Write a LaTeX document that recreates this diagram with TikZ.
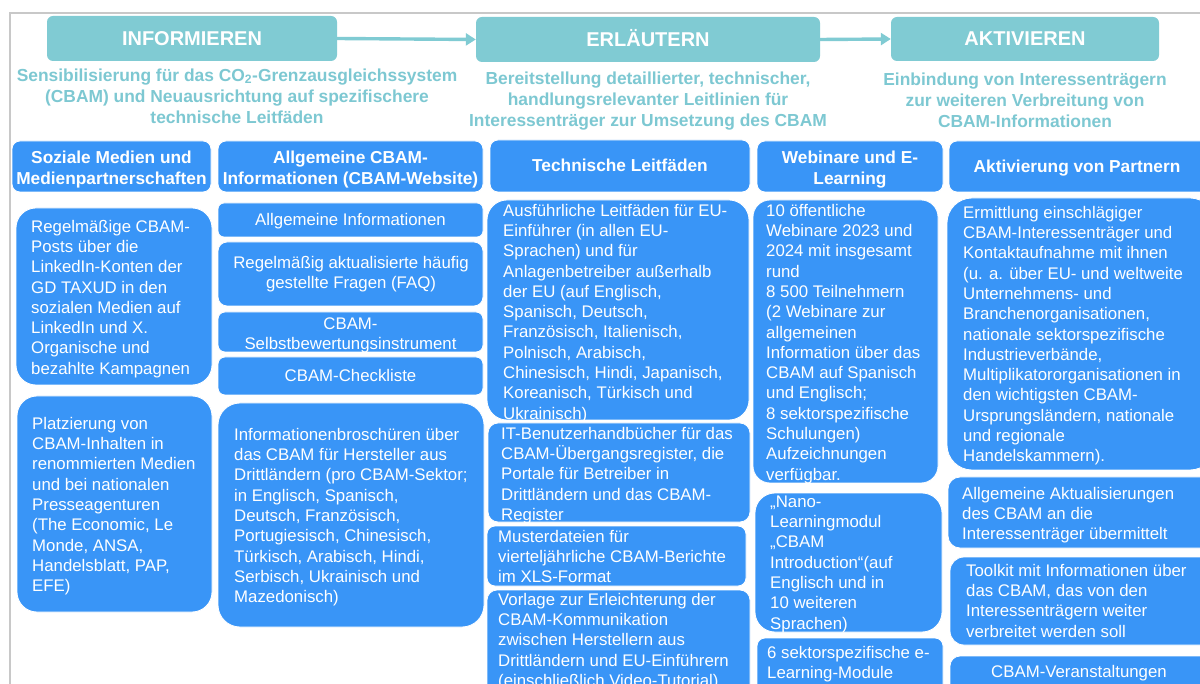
\documentclass[tikz,border=0pt]{standalone}
\usepackage{fontspec}
\setmainfont{Liberation Sans}
\usetikzlibrary{arrows.meta,fit}
\definecolor{cbblue}{RGB}{57,149,247}
\definecolor{tealbox}{RGB}{128,203,211}
\definecolor{tealtxt}{RGB}{125,200,210}
\definecolor{framegrey}{RGB}{200,200,200}
\newcommand\fst{\rule{0pt}{16pt}}
\begin{document}
\begin{tikzpicture}[x=1pt,y=-1pt,
  bx/.style={fill=cbblue, draw=white, line width=0.8pt, inner sep=0pt, rounded corners=#1},
  bx/.default=8,
  tbox/.style={fill=tealbox, draw=none, inner sep=0pt, rounded corners=6},
  ttl/.style={text=white, inner sep=0pt, font=\bfseries\fontsize{20}{24}\selectfont, anchor=base},
  sub/.style={text=tealtxt, inner sep=0pt, font=\bfseries\fontsize{17.4}{21}\selectfont, align=center, anchor=north},
  head/.style={text=white, inner sep=0pt, font=\bfseries\fontsize{17.3}{21}\selectfont, align=center, anchor=north},
  headone/.style={text=white, inner sep=0pt, font=\bfseries\fontsize{17.3}{21}\selectfont, anchor=base},
  body/.style={text=white, inner sep=0pt, font=\fontsize{16.8}{20.3}\selectfont, align=left, anchor=north west},
  bodyc/.style={text=white, inner sep=0pt, font=\fontsize{16.8}{20.5}\selectfont, align=center, anchor=north},
  bodyone/.style={text=white, inner sep=0pt, font=\fontsize{16.8}{20.3}\selectfont, anchor=base},
  arr/.style={draw=tealbox, line width=3.4pt, -{Triangle[length=10pt,width=12pt]}}
]
\useasboundingbox (0,0) rectangle (1200,684);
\clip (0,0) rectangle (1200,684);
\fill[white] (0,0) rectangle (1200,684);
\draw[framegrey, line width=1.2pt] (10,700) -- (10,13) -- (1210,13);

% top row
\node[tbox, fit={(47,16) (337,61)}] (inf) {};
\node[tbox, fit={(476,17) (820,62)}] (erl) {};
\node[tbox, fit={(891,17) (1159,61)}] (akt) {};
\node[ttl] (infT) at (192,46) {INFORMIEREN};
\node[ttl] (erlT) at (648,47) {ERLÄUTERN};
\node[ttl] (aktT) at (1025,46) {AKTIVIEREN};
\draw[arr] (inf.east) -- (erl.west);
\draw[arr] (erl.east) -- (akt.west);

\node[sub] (infS) at (237,65) {\fst Sensibilisierung für das CO\textsubscript{2}-Grenzausgleichssystem\\(CBAM) und Neuausrichtung auf spezifischere\\technische Leitfäden};
\node[sub] (erlS) at (648,68) {\fst Bereitstellung detaillierter, technischer,\\handlungsrelevanter Leitlinien für\\Interessenträger zur Umsetzung des CBAM};
\node[sub] (aktS) at (1025,69) {\fst Einbindung von Interessenträgern\\zur weiteren Verbreitung von\\CBAM-Informationen};

% column headers
\node[bx, fit={(12,141) (211,192)}] (h1) {};
\node[bx, fit={(218,141) (483,192)}] (h2) {};
\node[bx, fit={(490,140) (750,192)}] (h3) {};
\node[bx, fit={(757,141) (943,192)}] (h4) {};
\node[bx, fit={(949,141) (1208,192)}] (h5) {};
\node[head] (h1T) at (111.5,147) {\fst Soziale Medien und\\Medienpartnerschaften};
\node[head] (h2T) at (350.5,147) {\fst Allgemeine CBAM-\\Informationen (CBAM-Website)};
\node[headone] (h3T) at (620,172) {Technische Leitfäden};
\node[head] (h4T) at (850,147) {\fst Webinare und E-\\Learning};
\node[headone] (h5T) at (1077,173) {Aktivierung von Partnern};

% column 1
\node[bx=20, fit={(16,208) (212,385)}] (a1) {};
\node[body] (a1T) at (31,216) {\fst Regelmäßige CBAM-\\Posts über die\\LinkedIn-Konten der\\GD TAXUD in den\\sozialen Medien auf\\LinkedIn und X.\\Organische und\\bezahlte Kampagnen};
\node[bx=20, fit={(17,396) (212,612)}] (a2) {};
\node[body] (a2T) at (32,413) {\fst Platzierung von\\CBAM-Inhalten in\\renommierten Medien\\und bei nationalen\\Presseagenturen\\(The Economic, Le\\Monde, ANSA,\\Handelsblatt, PAP,\\EFE)};

% column 2
\node[bx=6, fit={(218,203) (483,237)}] (b1) {};
\node[bodyone] (b1T) at (350.5,226) {Allgemeine Informationen};
\node[bx=9, fit={(218,242) (483,306)}] (b2) {};
\node[bodyc] (b2T) at (351,252) {\fst Regelmäßig aktualisierte häufig\\gestellte Fragen (FAQ)};
\node[bx=7, fit={(218,312) (483,352)}] (b3) {};
\node[bodyc] (b3T) at (350.5,313) {\fst CBAM-\\Selbstbewertungsinstrument};
\node[bx=7, fit={(218,357) (483,395)}] (b4) {};
\node[bodyone] (b4T) at (350.5,382) {CBAM-Checkliste};
\node[bx=22, fit={(218,403) (484,627)}] (b5) {};
\node[body] (b5T) at (234,424) {\fst Informationenbroschüren über\\das CBAM für Hersteller aus\\Drittländern (pro CBAM-Sektor;\\in Englisch, Spanisch,\\Deutsch, Französisch,\\Portugiesisch, Chinesisch,\\Türkisch, Arabisch, Hindi,\\Serbisch, Ukrainisch und\\Mazedonisch)};

% column 3
\node[bx=20, fit={(487,200) (749,420)}] (c1) {};
\node[body] (c1T) at (503,200) {\fst Ausführliche Leitfäden für EU-\\Einführer (in allen EU-\\Sprachen) und für\\Anlagenbetreiber außerhalb\\der EU (auf Englisch,\\Spanisch, Deutsch,\\Französisch, Italienisch,\\Polnisch, Arabisch,\\Chinesisch, Hindi, Japanisch,\\Koreanisch, Türkisch und\\Ukrainisch)};
\node[bx=10, fit={(488,423) (750,522)}] (c2) {};
\node[body] (c2T) at (501,423) {\fst IT-Benutzerhandbücher für das\\CBAM-Übergangsregister, die\\Portale für Betreiber in\\Drittländern und das CBAM-\\Register};
\node[bx=8, fit={(487,526) (746,586)}] (c3) {};
\node[body] (c3T) at (498,526) {\fst Musterdateien für\\vierteljährliche CBAM-Berichte\\im XLS-Format};
\node[bx=10, fit={(487,590) (750,710)}] (c4) {};
\node[body] (c4T) at (498,589) {\fst Vorlage zur Erleichterung der\\CBAM-Kommunikation\\zwischen Herstellern aus\\Drittländern und EU-Einführern\\(einschließlich Video-Tutorial)};

% column 4
\node[bx=17, fit={(753,200) (938,483)}] (d1) {};
\node[body] (d1T) at (766,200) {\fst 10 öffentliche\\Webinare 2023 und\\2024 mit insgesamt\\rund\\8 500 Teilnehmern\\(2 Webinare zur\\allgemeinen\\Information über das\\CBAM auf Spanisch\\und Englisch;\\8 sektorspezifische\\Schulungen)\\Aufzeichnungen\\verfügbar.};
\node[bx=20, fit={(755,493) (942,632)}] (d2) {};
\node[body] (d2T) at (770,491) {\fst „Nano-\\Learningmodul\\„CBAM\\Introduction“(auf\\Englisch und in\\10 weiteren\\Sprachen)};
\node[bx=8, fit={(757,638) (943,710)}] (d3) {};
\node[body] (d3T) at (767,642) {\fst 6 sektorspezifische e-\\Learning-Module};

% column 5
\node[bx=25, fit={(947,198) (1215,470)}] (e1) {};
\node[body] (e1T) at (963,202) {\fst Ermittlung einschlägiger\\CBAM-Interessenträger und\\Kontaktaufnahme mit ihnen\\(u. a. über EU- und weltweite\\Unternehmens- und\\Branchenorganisationen,\\nationale sektorspezifische\\Industrieverbände,\\Multiplikatororganisationen in\\den wichtigsten CBAM-\\Ursprungsländern, nationale\\und regionale\\Handelskammern).};
\node[bx=12, fit={(948,477) (1215,548)}] (e2) {};
\node[body] (e2T) at (962,483) {\fst Allgemeine Aktualisierungen\\des CBAM an die\\Interessenträger übermittelt};
\node[bx=14, fit={(950,557) (1215,645)}] (e3) {};
\node[body] (e3T) at (966,560) {\fst Toolkit mit Informationen über\\das CBAM, das von den\\Interessenträgern weiter\\verbreitet werden soll};
\node[bx=10, fit={(950,656) (1215,710)}] (e4) {};
\node[bodyone] (e4T) at (1079,677) {CBAM-Veranstaltungen};
\end{tikzpicture}
\end{document}
